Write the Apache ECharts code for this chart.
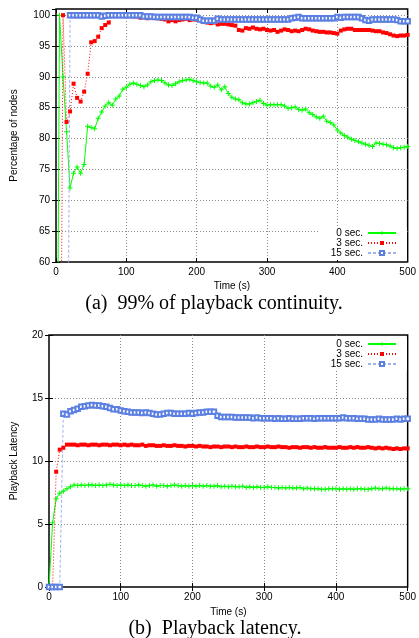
<!DOCTYPE html>
<html><head><meta charset="utf-8">
<script src="https://cdn.jsdelivr.net/npm/echarts@6/dist/echarts.min.js"></script>
<style>html,body{margin:0;padding:0;background:#fff}#c{width:419px;height:638px}</style>
</head><body><div id="c"></div>
<script>
// time stamps (s)
const times = [0,5,10,15,20,25,30,35,40,45,
50,55,60,65,70,75,80,85,90,95,
100,105,110,115,120,125,130,135,140,145,
150,155,160,165,170,175,180,185,190,195,
200,205,210,215,220,225,230,235,240,245,
250,255,260,265,270,275,280,285,290,295,
300,305,310,315,320,325,330,335,340,345,
350,355,360,365,370,375,380,385,390,395,
400,405,410,415,420,425,430,435,440,445,
450,455,460,465,470,475,480,485,490,495,
500];
const seriesNames = ['0 sec.', '3 sec.', '15 sec.'];

// (a) 99% of playback continuity - percentage of nodes
const contGreen = [0,100,90,81.1,72,74.4,75.4,74.4,75.8,82,
81.8,81.6,83.3,84.3,85.3,85.8,85.4,86.4,86.9,88,
88.3,88.8,89,88.8,88.6,88.4,88.7,89.2,89.4,89.5,
89.4,89.0,88.7,88.6,88.9,89.2,89.4,89.5,89.6,89.4,
89.2,89.1,89.0,89.0,88.5,88.3,88.7,87.9,88.4,87.3,
86.7,86.4,86.3,85.8,85.6,85.6,85.8,86.0,86.2,85.7,
85.4,85.5,85.5,85.5,85.5,85.3,84.9,85.0,85.1,84.7,
84.6,84.8,84.2,83.9,83.5,83.3,83.6,82.8,82.6,82.2,
81.4,80.9,80.5,80.2,79.9,79.7,79.5,79.3,79.1,78.9,
78.7,79.3,79.2,79.1,79.0,78.8,78.5,78.4,78.5,78.6,
78.7];
const contRed = [0,0,100,82.7,84.4,88.9,86.6,86.0,87.6,90.5,
95.6,95.8,96.5,97.9,98.4,98.8,99.9,99.9,99.9,100,
99.9,100,99.8,99.8,99.6,99.8,99.5,99.6,99.7,99.5,
99.4,99.3,99.0,99.2,99.0,99.2,99.3,99.4,99.2,99.3,
99.3,99.2,98.9,98.8,98.7,98.8,98.5,98.6,98.6,98.5,
98.4,98.3,97.6,97.5,97.9,97.8,98.0,97.8,97.7,97.8,
97.6,97.5,97.6,97.3,97.5,97.7,97.6,97.4,97.5,97.4,
97.6,97.8,97.7,97.5,97.4,97.3,97.3,97.2,97.2,97.1,
97.0,97.5,97.7,97.8,97.8,97.6,97.6,97.6,97.6,97.6,
97.5,97.4,97.4,97.2,97.1,96.9,96.7,96.6,96.7,96.7,
96.8];
const contBlue = [0,0,0,0,100,100,100,100,100,100,
100,100,100,99.8,99.9,100,100,100,100,100,
100,100,100,100,100,99.8,99.8,99.8,99.7,99.7,
99.7,99.7,99.7,99.7,99.7,99.7,99.7,99.7,99.7,99.6,
99.6,99.3,99.1,99.1,99.1,99.1,99.4,99.3,99.3,99.3,
99.3,99.3,99.3,99.3,99.3,99.3,99.3,99.3,99.3,99.3,
99.3,99.3,99.3,99.3,99.3,99.3,99.3,99.5,99.6,99.7,
99.5,99.5,99.5,99.5,99.5,99.5,99.5,99.5,99.5,99.5,
99.7,99.6,99.7,99.7,99.7,99.7,99.7,99.5,99.2,99.1,
99.3,99.3,99.3,99.3,99.3,99.3,99.3,99.2,99.0,99.0,
99.0];

// (b) Playback latency
const latGreen = [0,5.1,7.0,7.45,7.6,7.8,7.95,8.1,8.05,8.1,
8.05,8.1,8.1,8.05,8.1,8.05,8.1,8.15,8.1,8.05,
8.1,8.05,8.1,8.05,8.05,8.1,8.05,8.0,8.05,8.1,
8.0,8.05,8.05,8.0,8.05,8.1,8.05,8.0,8.05,8.0,
8.05,8.0,8.05,8.0,8.05,8.0,8.0,8.05,7.95,8.0,
7.95,8.0,7.95,7.95,8.0,7.9,7.95,7.9,7.95,7.9,
7.9,7.95,7.9,7.9,7.85,7.9,7.85,7.9,7.85,7.85,
7.9,7.8,7.85,7.8,7.8,7.8,7.75,7.75,7.8,7.8,
7.8,7.75,7.8,7.75,7.8,7.75,7.8,7.8,7.75,7.75,
7.8,7.85,7.8,7.8,7.85,7.8,7.8,7.8,7.75,7.8,
7.8];
const latRed = [0,0,9.15,10.9,11.05,11.3,11.3,11.3,11.25,11.3,
11.3,11.25,11.3,11.3,11.25,11.3,11.3,11.25,11.3,11.3,
11.25,11.3,11.25,11.3,11.25,11.25,11.3,11.2,11.25,11.25,
11.2,11.2,11.25,11.2,11.2,11.25,11.2,11.2,11.15,11.2,
11.2,11.15,11.2,11.15,11.15,11.1,11.15,11.15,11.1,11.15,
11.15,11.1,11.15,11.1,11.1,11.15,11.1,11.1,11.15,11.1,
11.1,11.15,11.1,11.1,11.15,11.1,11.1,11.05,11.1,11.1,
11.05,11.1,11.1,11.05,11.1,11.05,11.05,11.1,11.05,11.05,
11.05,11.1,11.05,11.05,11.1,11.05,11.1,11.05,11.05,11.1,
11.05,11.0,11.05,11.0,11.05,11.0,10.95,11.0,10.95,11.0,
11.0];
const latBlue = [0,0,0,0,13.75,13.7,13.95,14.05,14.15,14.3,
14.35,14.4,14.45,14.4,14.4,14.35,14.3,14.2,14.1,14.1,
14.0,13.95,13.9,13.85,13.85,13.85,13.8,13.85,13.8,13.75,
13.7,13.7,13.75,13.8,13.8,13.75,13.75,13.75,13.75,13.8,
13.75,13.8,13.85,13.85,13.9,13.9,13.9,13.6,13.5,13.5,
13.5,13.5,13.45,13.45,13.45,13.45,13.45,13.4,13.45,13.4,
13.4,13.4,13.4,13.35,13.4,13.35,13.35,13.4,13.35,13.35,
13.35,13.4,13.4,13.4,13.35,13.4,13.4,13.4,13.4,13.4,
13.4,13.4,13.45,13.4,13.4,13.4,13.35,13.35,13.35,13.3,
13.3,13.3,13.35,13.3,13.3,13.3,13.3,13.35,13.3,13.35,
13.35];

const FONT = '"Liberation Sans", Arial, sans-serif';
const pairs = (vals) => times.map((t, i) => [t, vals[i]]);
const plusPath = 'path://M4,0H6V4H10V6H6V10H4V6H0V4H4Z';
const gridLine = {show: true, lineStyle: {type: [1, 2], color: '#8a8a8a', width: 1}, showMinLine: false, showMaxLine: false};

function xMain(gi, nameGap) {
  return {type: 'value', gridIndex: gi, min: 0, max: 500, interval: 100,
    name: 'Time (s)', nameLocation: 'middle', nameGap: nameGap,
    nameTextStyle: {fontSize: 10, color: '#000', fontFamily: FONT},
    axisLine: {show: false},
    axisTick: {show: true, inside: true, length: 4, lineStyle: {color: '#000'}},
    axisLabel: {margin: 5, fontSize: 10, color: '#000', fontFamily: FONT},
    splitLine: gridLine};
}
function xMirror(gi) {
  return {type: 'value', gridIndex: gi, position: 'top', min: 0, max: 500, interval: 100,
    axisLine: {show: false}, axisLabel: {show: false}, splitLine: {show: false},
    axisTick: {show: true, inside: true, length: 4, lineStyle: {color: '#000'}}};
}
function yMain(gi, min, max, name, nameGap) {
  return {type: 'value', gridIndex: gi, min: min, max: max, interval: 5,
    name: name, nameLocation: 'middle', nameGap: nameGap, nameRotate: 90,
    nameTextStyle: {fontSize: 10, color: '#000', fontFamily: FONT},
    axisLine: {show: false},
    axisTick: {show: true, inside: true, length: 4, lineStyle: {color: '#000'}},
    axisLabel: {margin: 6, fontSize: 10, color: '#000', fontFamily: FONT, showMaxLabel: max % 5 === 0},
    splitLine: gridLine};
}
function yMirror(gi, min, max) {
  return {type: 'value', gridIndex: gi, position: 'right', min: min, max: max, interval: 5,
    axisLine: {show: false}, axisLabel: {show: false}, splitLine: {show: false},
    axisTick: {show: true, inside: true, length: 4, lineStyle: {color: '#000'}}};
}
function mkSeries(idx, gi, vals) {
  const base = {type: 'line', name: seriesNames[idx], xAxisIndex: gi * 2, yAxisIndex: gi * 2,
    data: pairs(vals), showAllSymbol: true, clip: true, animation: false,
    emphasis: {disabled: true}};
  if (idx === 0) return Object.assign(base, {symbol: plusPath, symbolSize: 5,
    itemStyle: {color: '#00ff00'}, lineStyle: {color: '#00ff00', width: 1}});
  if (idx === 1) return Object.assign(base, {symbol: 'rect', symbolSize: 4,
    itemStyle: {color: '#ff0000'}, lineStyle: {color: '#ff0000', width: 1, type: [1, 2]}});
  return Object.assign(base, {symbol: 'emptyRect', symbolSize: 4.5,
    itemStyle: {color: '#5c7fe2', borderWidth: 1}, lineStyle: {color: '#9fb2ee', width: 1, type: [3, 2]}});
}
function legend(top) {
  return {data: seriesNames, orient: 'vertical', align: 'right', right: 12, top: top,
    itemWidth: 28, itemHeight: 5, itemGap: 0, padding: [1, 10, 2, 11],
    backgroundColor: '#fff', selectedMode: false,
    textStyle: {fontSize: 10, lineHeight: 10, color: '#000', fontFamily: FONT}};
}

const chart = echarts.init(document.getElementById('c'), null, {renderer: 'canvas'});
chart.setOption({
  animation: false,
  backgroundColor: '#fff',
  grid: [
    {left: 56, right: 10, top: 9, height: 253, show: true, borderColor: '#000', borderWidth: 1.5, backgroundColor: 'transparent'},
    {left: 49, right: 10, top: 335, height: 252, show: true, borderColor: '#000', borderWidth: 1.5, backgroundColor: 'transparent'}
  ],
  xAxis: [xMain(0, 19), xMirror(0), xMain(1, 20), xMirror(1)],
  yAxis: [yMain(0, 60, 101, 'Percentage of nodes', 37), yMirror(0, 60, 101),
          yMain(1, 0, 20, 'Playback Latency', 30), yMirror(1, 0, 20)],
  legend: [legend(227), legend(338)],
  series: [
    mkSeries(0, 0, contGreen), mkSeries(1, 0, contRed), mkSeries(2, 0, contBlue),
    mkSeries(0, 1, latGreen), mkSeries(1, 1, latRed), mkSeries(2, 1, latBlue)
  ],
  graphic: [
    {type: 'text', x: 214, y: 304, style: {text: '(a)  99% of playback continuity.', font: '20px "Liberation Serif", "Times New Roman", serif', fill: '#000', align: 'center', verticalAlign: 'middle'}},
    {type: 'text', x: 215, y: 629, style: {text: '(b)  Playback latency.', font: '20px "Liberation Serif", "Times New Roman", serif', fill: '#000', align: 'center', verticalAlign: 'middle'}}
  ]
});
</script>
</body></html>
